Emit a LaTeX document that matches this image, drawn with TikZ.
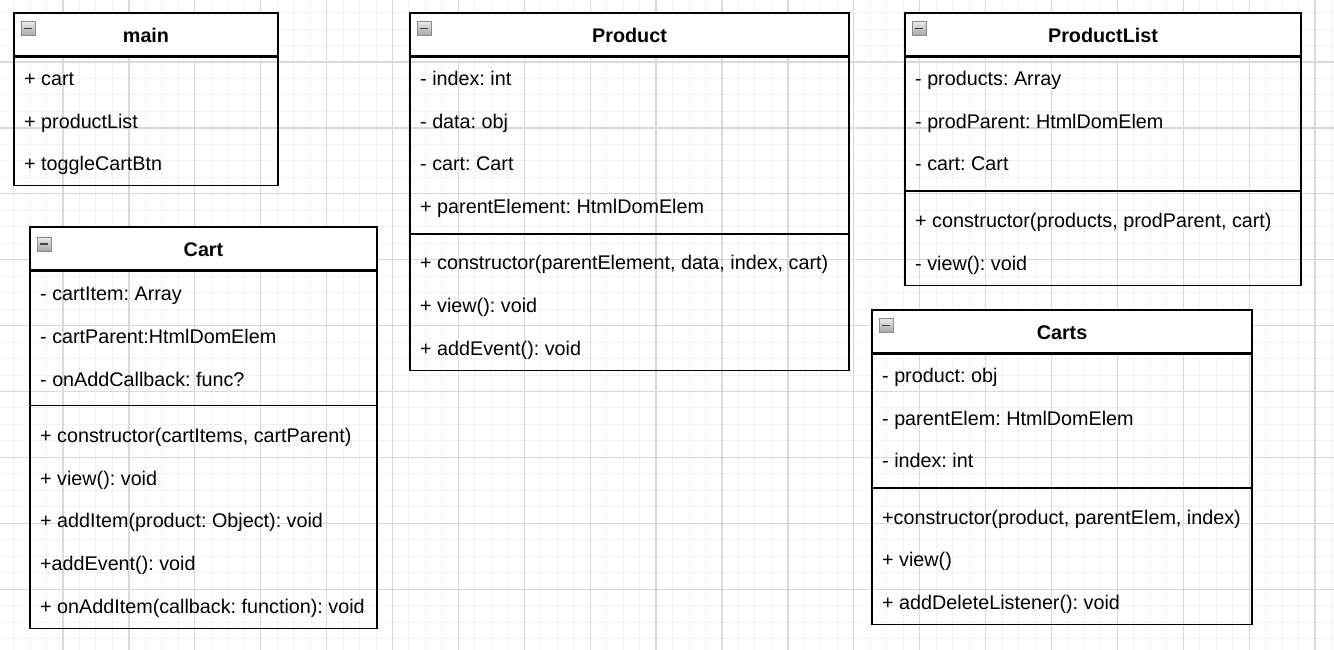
\documentclass[tikz,border=0pt]{standalone}
\usepackage{fontspec}
\setmainfont{Liberation Sans}
\frenchspacing

\tikzset{
  classhead/.style={draw, line width=1.5pt, fill=white, minimum height=43pt,
    inner sep=0pt, font=\fontsize{19.76}{24}\selectfont\bfseries,
    text height=16pt, text depth=0pt},
  classbody/.style={draw, line width=1.5pt, anchor=north, inner sep=0pt},
  member/.style={anchor=west, inner sep=0pt, font=\fontsize{19.76}{24}\selectfont,
    text height=16pt, text depth=0pt},
  fold/.style={draw=black!45, line width=0.8pt, top color=black!8, bottom color=black!35,
    minimum size=14pt, inner sep=0pt, anchor=north west,
    path picture={\draw[line width=1.6pt, black!75]
      ([xshift=3pt]path picture bounding box.west) -- ([xshift=-3pt]path picture bounding box.east);}},
  sepline/.style={line width=1.5pt},
  minorgrid/.style={line width=1pt, black!5},
  majorgrid/.style={line width=1.3pt, black!15},
}

\begin{document}
\begin{tikzpicture}[x=1pt, y=-1pt]
    \useasboundingbox (0,0) rectangle (1334,650);
    \fill[white] (0,0) rectangle (1334,650);

    % grid
    \foreach \i in {0,...,81}
      \draw[minorgrid] ({-2.9+16.475*\i},0) -- ++(0,650);
    \foreach \i in {0,...,40}
      \draw[minorgrid] (0,{-3.9+16.475*\i}) -- ++(1334,0);
    \foreach \i in {0,...,20}
      \draw[majorgrid] ({-2.9+65.9*\i},0) -- ++(0,650);
    \foreach \i in {0,...,10}
      \draw[majorgrid] (0,{-3.9+65.9*\i}) -- ++(1334,0);

    % main
    \node[classhead, minimum width=264pt] (mainHead) at (146,34.5) {main};
    \node[classbody, minimum width=264pt, minimum height=128pt] (main) at (mainHead.south) {};
    \node[fold] (mainFold) at (21,21) {};
    \node[member] (mainCart) at (24,77.4) {+ cart};
    \node[member] (mainList) at (24,120.2) {+ productList};
    \node[member] (mainBtn) at (24,163) {+ toggleCartBtn};

    % Product
    \node[classhead, minimum width=439pt] (productHead) at (629.5,34.5) {Product};
    \node[classbody, minimum width=439pt, minimum height=313pt] (product) at (productHead.south) {};
    \node[fold] (productFold) at (417,21) {};
    \node[member] (productIndex) at (420,77.4) {- index: int};
    \node[member] (productData) at (420,120.2) {- data: obj};
    \node[member] (productCart) at (420,163) {- cart: Cart};
    \node[member] (productParent) at (420,205.8) {+ parentElement: HtmlDomElem};
    \draw[sepline] (410,234) -- (849,234);
    \node[member] (productCtor) at (420,261.8) {+ constructor(parentElement, data, index, cart)};
    \node[member] (productView) at (420,304.6) {+ view(): void};
    \node[member] (productEvent) at (420,347.4) {+ addEvent(): void};

    % ProductList
    \node[classhead, minimum width=396pt] (listHead) at (1103,34.5) {ProductList};
    \node[classbody, minimum width=396pt, minimum height=228pt] (list) at (listHead.south) {};
    \node[fold] (listFold) at (912,21) {};
    \node[member] (listProducts) at (915,77.4) {- products: Array};
    \node[member] (listParent) at (915,120.2) {- prodParent: HtmlDomElem};
    \node[member] (listCart) at (915,163) {- cart: Cart};
    \draw[sepline] (905,191) -- (1301,191);
    \node[member] (listCtor) at (915,219.2) {+ constructor(products, prodParent, cart)};
    \node[member] (listView) at (915,262) {- view(): void};

    % Carts
    \node[classhead, minimum width=380pt] (cartsHead) at (1062,331.5) {Carts};
    \node[classbody, minimum width=380pt, minimum height=270pt] (carts) at (cartsHead.south) {};
    \node[fold] (cartsFold) at (879,318) {};
    \node[member] (cartsProduct) at (882,374.2) {- product: obj};
    \node[member] (cartsParent) at (882,417) {- parentElem: HtmlDomElem};
    \node[member] (cartsIndex) at (882,459.8) {- index: int};
    \draw[sepline] (872,488) -- (1252,488);
    \node[member] (cartsCtor) at (882,516) {+constructor(product, parentElem, index)};
    \node[member] (cartsView) at (882,558.8) {+ view()};
    \node[member] (cartsDelete) at (882,601.6) {+ addDeleteListener(): void};

    % Cart
    \node[classhead, minimum width=347pt] (cartHead) at (203.5,248.5) {Cart};
    \node[classbody, minimum width=347pt, minimum height=357pt] (cart) at (cartHead.south) {};
    \node[fold] (cartFold) at (37,236.5) {};
    \node[member] (cartItem) at (40,292.5) {- cartItem: Array};
    \node[member] (cartParent) at (40,335.3) {- cartParent:HtmlDomElem};
    \node[member] (cartCallback) at (40,378.1) {- onAddCallback: func?};
    \draw[sepline] (30,405.5) -- (377,405.5);
    \node[member] (cartCtor) at (40,434.3) {+ constructor(cartItems, cartParent)};
    \node[member] (cartView) at (40,477.1) {+ view(): void};
    \node[member] (cartAdd) at (40,519.9) {+ addItem(product: Object): void};
    \node[member] (cartEvent) at (40,562.7) {+addEvent(): void};
    \node[member] (cartOnAdd) at (40,605.5) {+ onAddItem(callback: function): void};
\end{tikzpicture}
\end{document}
